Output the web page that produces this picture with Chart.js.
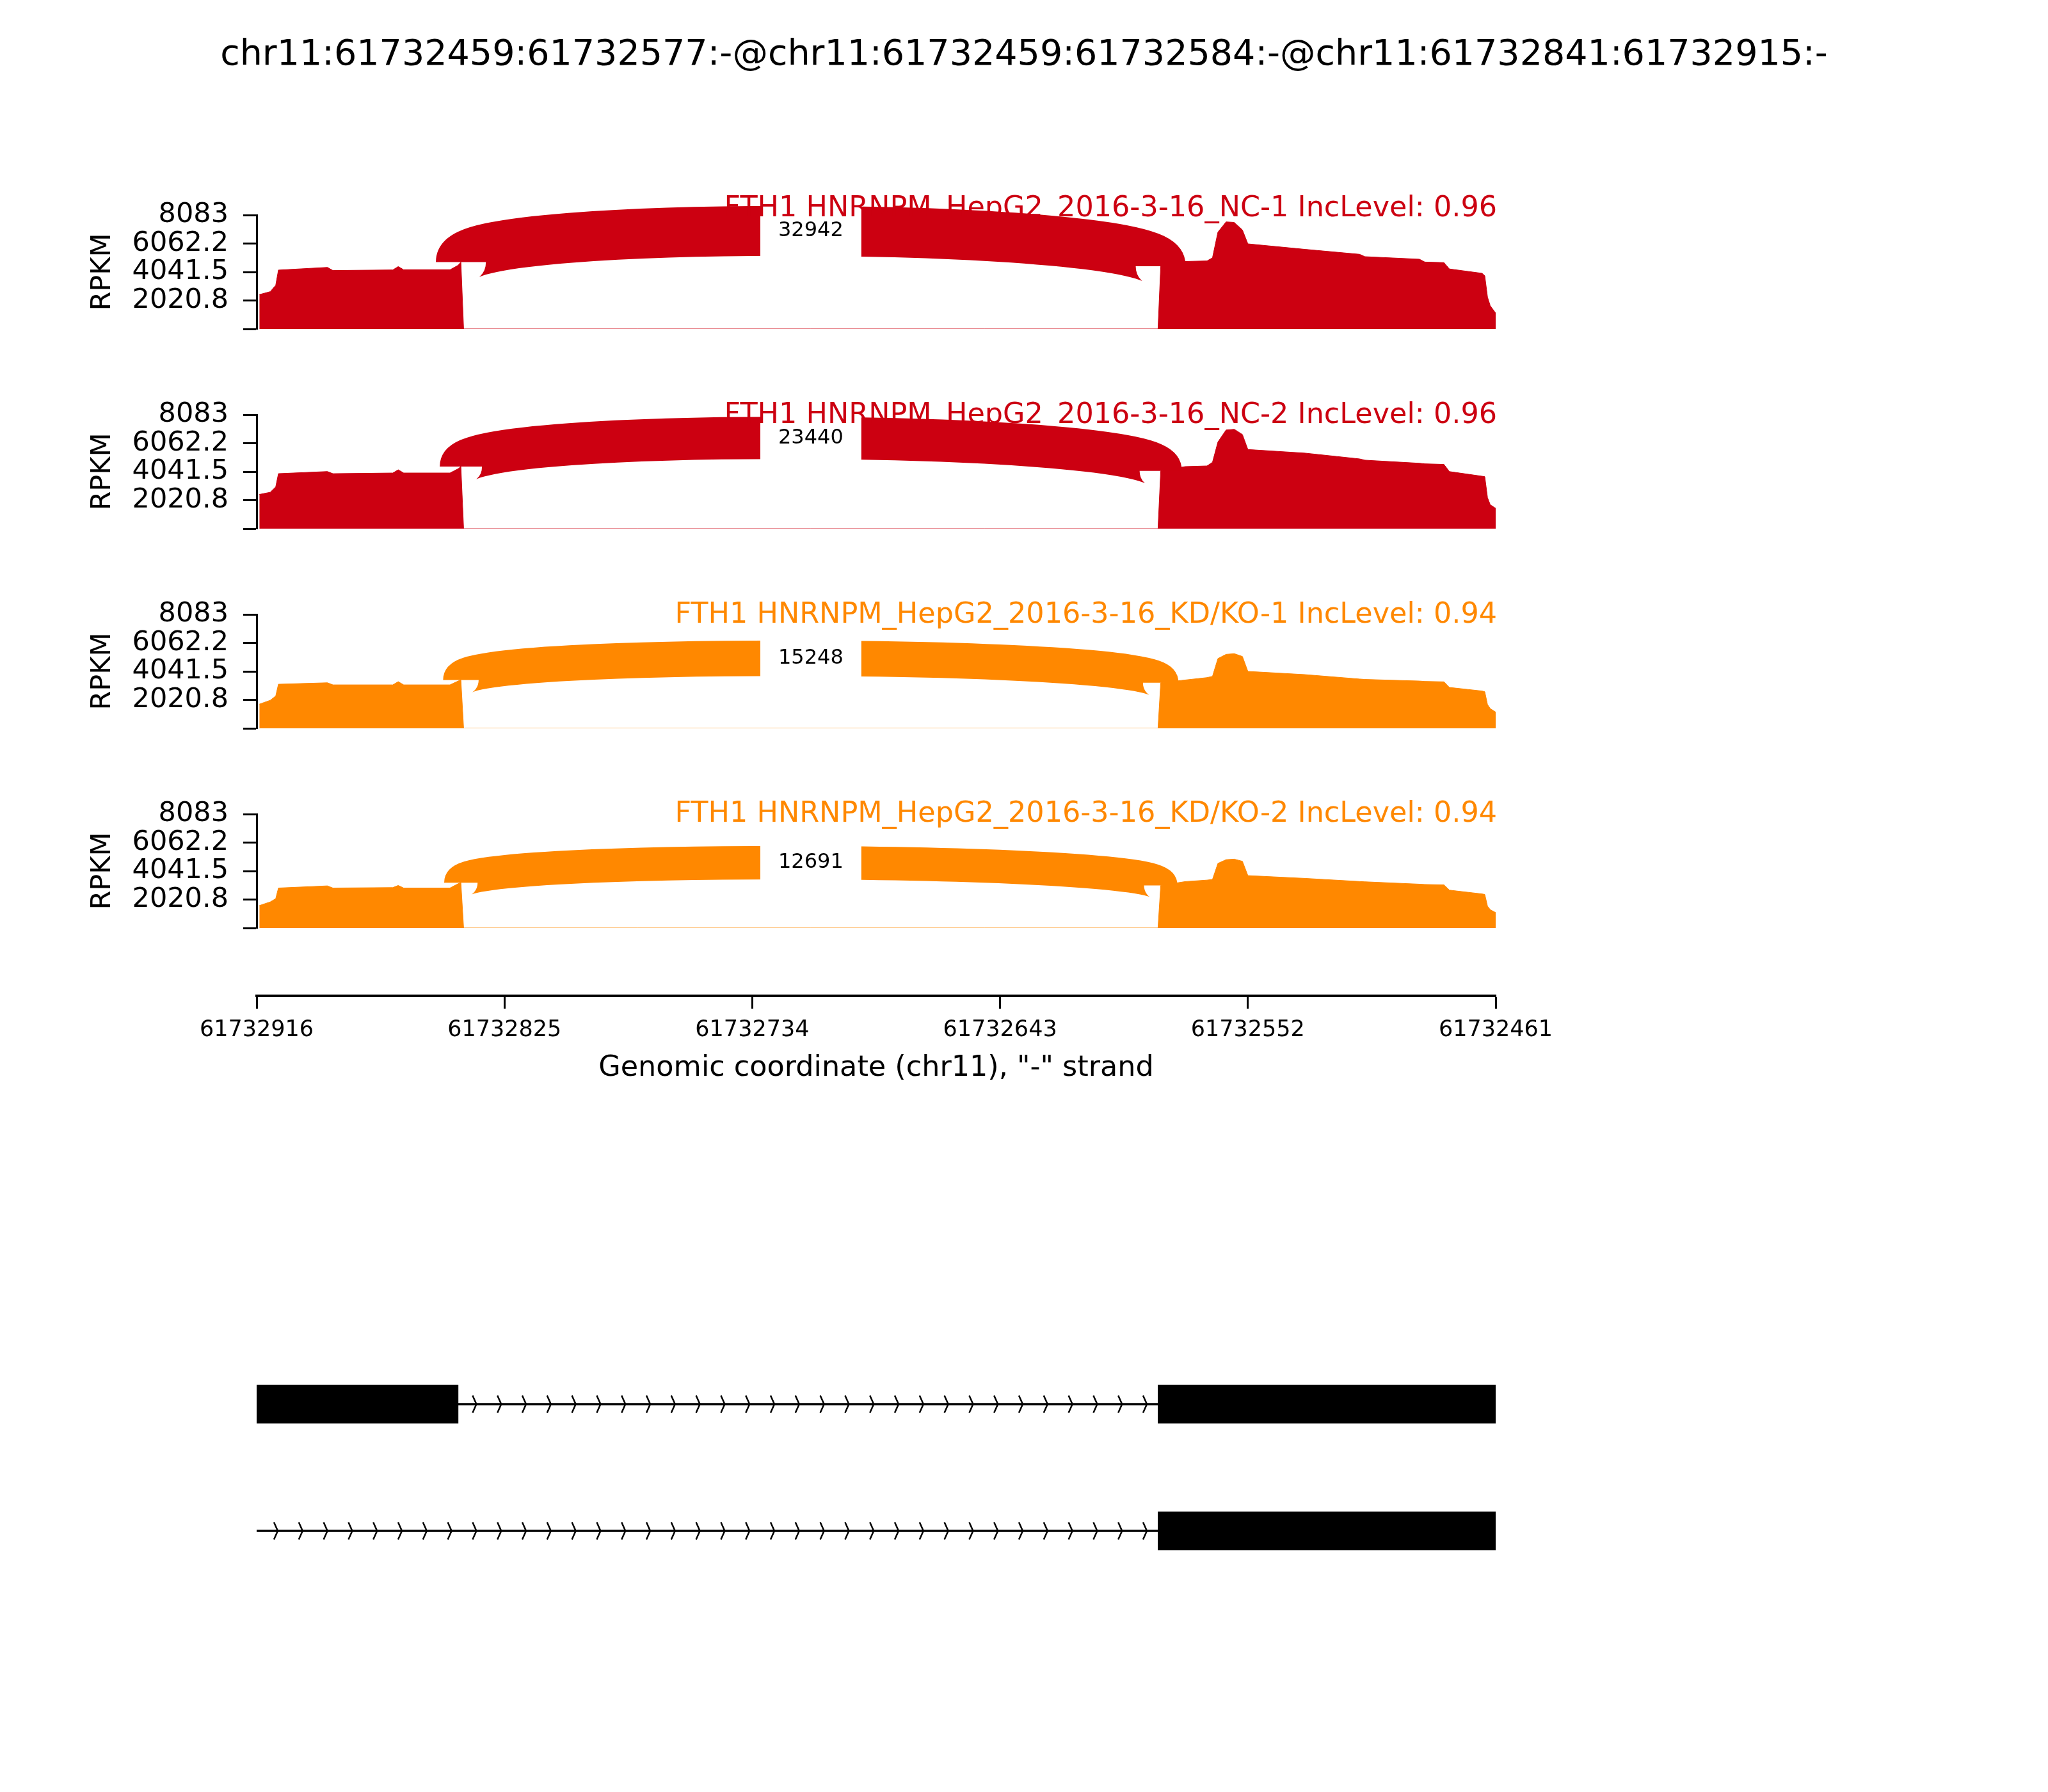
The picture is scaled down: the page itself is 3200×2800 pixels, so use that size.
<!DOCTYPE html>
<html>
<head>
<meta charset="utf-8">
<script src="https://cdn.jsdelivr.net/npm/chart.js@4.4.1/dist/chart.umd.min.js"></script>
<style>
  body { margin: 0; background: #fff; }
  #page { position: relative; width: 3200px; height: 2800px; background: #fff; overflow: hidden; }
  #page canvas { position: absolute; left: 0; }
  #title { position: absolute; left: 0; top: 50px; width: 3200px; text-align: center;
           font: 55.5px "DejaVu Sans"; line-height: 64px; color: #000; }
</style>
</head>
<body>
<div id="page">
  <div id="title">chr11:61732459:61732577:-@chr11:61732459:61732584:-@chr11:61732841:61732915:-</div>
  <canvas id="cov0" width="3200" height="318" style="top:256px"></canvas>
  <canvas id="cov1" width="3200" height="318" style="top:568px"></canvas>
  <canvas id="cov2" width="3200" height="318" style="top:880px"></canvas>
  <canvas id="cov3" width="3200" height="318" style="top:1192px"></canvas>
  <canvas id="axis" width="3200" height="350" style="top:1400px"></canvas>
  <canvas id="genes" width="3200" height="500" style="top:2050px"></canvas>
</div>
<script>
// samples
const sampleNames = [
    "FTH1 HNRNPM_HepG2_2016-3-16_NC-1",
    "FTH1 HNRNPM_HepG2_2016-3-16_NC-2",
    "FTH1 HNRNPM_HepG2_2016-3-16_KD/KO-1",
    "FTH1 HNRNPM_HepG2_2016-3-16_KD/KO-2"
];
const incLevels = ["0.96", "0.96", "0.94", "0.94"];
const colors = ["#CC0011", "#CC0011", "#FF8800", "#FF8800"];

// coverage (RPKM) read at these genomic positions
const positions = [
    61732915, 61732911, 61732909, 61732908, 61732890, 61732888, 61732866,
    61732864, 61732862, 61732845, 61732842, 61732841, 61732840,
    61732585, 61732584, 61732575, 61732567, 61732565, 61732563, 61732560,
    61732557, 61732554, 61732552, 61732531, 61732511, 61732509, 61732489,
    61732487, 61732480, 61732478, 61732466, 61732465, 61732464, 61732463,
    61732461
];
const coverageNC1 = [
    2440, 2650, 3100, 4180, 4370, 4150, 4190, 4430, 4200, 4200, 4520, 4750, 0,
    0, 4450, 4790, 4830, 5050, 6870, 7600, 7560, 7025, 6040, 5650, 5300, 5130,
    4950, 4750, 4710, 4260, 3950, 3770, 2260, 1650, 1120
];
const coverageNC2 = [
    2427, 2582, 2960, 3902, 4053, 3900, 3948, 4176, 3948, 3948, 4249, 4404, 0,
    0, 4099, 4404, 4450, 4708, 6148, 7000, 7050, 6680, 5615, 5360, 4950, 4860,
    4640, 4600, 4560, 4050, 3720, 3690, 2200, 1700, 1440
];
const coverageKD1 = [
    1717, 1990, 2291, 3129, 3233, 3083, 3083, 3311, 3083, 3083, 3356, 3430, 0,
    0, 3233, 3430, 3600, 3689, 4950, 5250, 5297, 5100, 4039, 3811, 3500, 3470,
    3356, 3330, 3300, 2901, 2650, 2596, 1685, 1400, 1152
];
const coverageKD2 = [
    1594, 1852, 2081, 2837, 2991, 2837, 2869, 3021, 2837, 2837, 3142, 3218, 0,
    0, 3021, 3294, 3400, 3446, 4584, 4850, 4887, 4736, 3719, 3522, 3300, 3280,
    3112, 3090, 3060, 2687, 2420, 2383, 1549, 1300, 1093
];
const coverage = [coverageNC1, coverageNC2, coverageKD1, coverageKD2];

// junction chr11:61732841-61732584 read counts
const junctionLeft = 61732841;
const junctionRight = 61732584;
const junctionCounts = [32942, 23440, 15248, 12691];

// axes
const yTicks = [0, 2020.8, 4041.5, 6062.2, 8083];
const yTickLabels = ["", "2020.8", "4041.5", "6062.2", "8083"];
const xTicks = [61732916, 61732825, 61732734, 61732643, 61732552, 61732461];

// gene model
const isoformNames = ["isoform1", "isoform2"];
const isoformExons = [
    [[61732916, 61732842], [61732585, 61732461]],
    [[61732585, 61732461]]
];
const intronSpans = [[61732842, 61732585], [61732916, 61732585]];

// layout (pixels)
const PAGE_W = 3200;
const PLOT_LEFT = 401;
const PLOT_RIGHT = 2337;
const PANEL_PAD_TOP = 80;
const PANEL_PAD_BOTTOM = 60;
const titleDy = [2, 13, 13, 12];

Chart.defaults.font.family = '"DejaVu Sans"';
Chart.defaults.color = "#000";

function xScaleHidden() {
    return {
        type: "linear", reverse: true, display: false,
        min: xTicks[xTicks.length - 1], max: xTicks[0]
    };
}

const junctionPlugin = {
    id: "junction",
    afterDatasetsDraw(chart, args, opts) {
        const s = opts.sample;
        const { ctx, chartArea } = chart;
        const x = chart.scales.x, y = chart.scales.y;
        const cov = coverage[s];
        const leftDens = cov[positions.indexOf(junctionLeft)];
        const rightDens = cov[positions.indexOf(junctionRight)];
        const h = 0.4125 * Math.max(...cov);

        const x0 = x.getPixelForValue(junctionLeft);
        const x3 = x.getPixelForValue(junctionRight);
        const y0 = y.getPixelForValue(leftDens);
        const y3 = y.getPixelForValue(rightDens);
        const y1 = y.getPixelForValue(leftDens + h);
        const y2 = y.getPixelForValue(rightDens + h);

        ctx.save();
        ctx.beginPath();
        ctx.moveTo(x0, y0);
        ctx.bezierCurveTo(x0, y1, x3, y2, x3, y3);
        ctx.lineWidth = 36 + junctionCounts[s] * 0.00128;
        ctx.lineCap = "butt";
        ctx.strokeStyle = colors[s];
        ctx.stroke();

        // count label in a white box at the curve midpoint
        const mx = (x0 + x3) / 2;
        const my = (y0 + 3 * y1 + 3 * y2 + y3) / 8;
        const txt = String(junctionCounts[s]);
        ctx.font = '32px "DejaVu Sans"';
        const w = ctx.measureText(txt).width;
        ctx.fillStyle = "#fff";
        ctx.fillRect(mx - w / 2 - 28, my - 44, w + 56, 88);
        ctx.fillStyle = "#000";
        ctx.textAlign = "center";
        ctx.textBaseline = "middle";
        ctx.fillText(txt, mx, my);

        // sample title
        ctx.font = '44.5px "DejaVu Sans"';
        ctx.fillStyle = colors[s];
        ctx.textAlign = "right";
        ctx.textBaseline = "alphabetic";
        ctx.fillText(sampleNames[s] + " IncLevel: " + incLevels[s],
            chartArea.right + 2, y.getPixelForValue(yTicks[yTicks.length - 1]) + titleDy[s]);
        ctx.restore();
    }
};

sampleNames.forEach(function (name, s) {
    new Chart(document.getElementById("cov" + s), {
        type: "line",
        data: {
            datasets: [{
                label: name,
                data: positions.map((p, i) => ({ x: p, y: coverage[s][i] })),
                fill: "origin",
                backgroundColor: colors[s],
                borderColor: colors[s],
                borderWidth: 1,
                pointRadius: 0,
                tension: 0
            }]
        },
        options: {
            responsive: false,
            devicePixelRatio: 1,
            animation: false,
            layout: { padding: { left: 0, right: PAGE_W - PLOT_RIGHT, top: PANEL_PAD_TOP, bottom: PANEL_PAD_BOTTOM } },
            plugins: {
                legend: { display: false },
                tooltip: { enabled: false },
                junction: { sample: s }
            },
            scales: {
                x: xScaleHidden(),
                y: {
                    min: 0,
                    max: yTicks[yTicks.length - 1],
                    afterFit: sc => { sc.width = PLOT_LEFT; },
                    afterBuildTicks: sc => { sc.ticks = yTicks.map(v => ({ value: v })); },
                    ticks: {
                        autoSkip: false,
                        padding: 23,
                        font: { size: 43 },
                        color: "#000",
                        callback: (v, i) => yTickLabels[i]
                    },
                    grid: { drawOnChartArea: false, drawTicks: true, tickLength: 21, tickWidth: 3, tickColor: "#000", color: "#000" },
                    border: { display: true, color: "#000", width: 3 },
                    title: { display: true, text: "RPKM", font: { size: 43 }, color: "#000", padding: { top: 135, bottom: 0 } }
                }
            }
        },
        plugins: [junctionPlugin]
    });
});

// genomic coordinate axis
new Chart(document.getElementById("axis"), {
    type: "scatter",
    data: { datasets: [{ data: [] }] },
    options: {
        responsive: false,
        devicePixelRatio: 1,
        animation: false,
        layout: { padding: { left: PLOT_LEFT, right: PAGE_W - PLOT_RIGHT, top: 146, bottom: 0 } },
        plugins: { legend: { display: false }, tooltip: { enabled: false } },
        scales: {
            x: {
                type: "linear", reverse: true, position: "bottom",
                min: xTicks[xTicks.length - 1], max: xTicks[0],
                afterFit: sc => { sc.height = 194; },
                afterBuildTicks: sc => { sc.ticks = xTicks.map(v => ({ value: v })); },
                ticks: { autoSkip: false, maxRotation: 0, padding: 13, font: { size: 35 }, color: "#000", callback: v => String(v) },
                grid: { drawOnChartArea: false, drawTicks: true, tickLength: 20, tickWidth: 3, tickColor: "#000" },
                border: { display: true, color: "#000", width: 4 },
                title: { display: true, text: 'Genomic coordinate (chr11), "-" strand', font: { size: 44.5 }, color: "#000", padding: { top: 0, bottom: 54 } }
            },
            y: { display: false }
        }
    }
});

// strand chevrons along introns
const chevronPlugin = {
    id: "chevrons",
    afterDatasetsDraw(chart) {
        const { ctx, chartArea } = chart;
        const bars = chart.getDatasetMeta(0).data;
        ctx.save();
        ctx.strokeStyle = "#000";
        ctx.lineWidth = 2.5;
        bars.forEach(function (el) {
            const a = Math.min(el.x, el.base), b = Math.max(el.x, el.base);
            for (let px = chartArea.left + 30; px <= b - 12; px += 38.8) {
                if (px < a + 20) continue;
                ctx.beginPath();
                ctx.moveTo(px - 3, el.y - 13.5);
                ctx.lineTo(px + 3, el.y);
                ctx.lineTo(px - 3, el.y + 13.5);
                ctx.stroke();
            }
        });
        ctx.restore();
    }
};

new Chart(document.getElementById("genes"), {
    type: "bar",
    data: {
        labels: isoformNames,
        datasets: [
            {
                label: "introns",
                data: intronSpans.map((iv, i) => ({ y: isoformNames[i], x: iv })),
                backgroundColor: "#000",
                barThickness: 3,
                grouped: false
            }
        ].concat(isoformExons.map((exs, i) => ({
            label: isoformNames[i],
            data: exs.map(iv => ({ y: isoformNames[i], x: iv })),
            backgroundColor: "#000",
            barThickness: 60,
            grouped: false
        })))
    },
    options: {
        indexAxis: "y",
        responsive: false,
        devicePixelRatio: 1,
        animation: false,
        layout: { padding: { left: PLOT_LEFT, right: PAGE_W - PLOT_RIGHT, top: 45, bottom: 59 } },
        plugins: { legend: { display: false }, tooltip: { enabled: false } },
        scales: {
            x: xScaleHidden(),
            y: { display: false }
        }
    },
    plugins: [chevronPlugin]
});
</script>
</body>
</html>
